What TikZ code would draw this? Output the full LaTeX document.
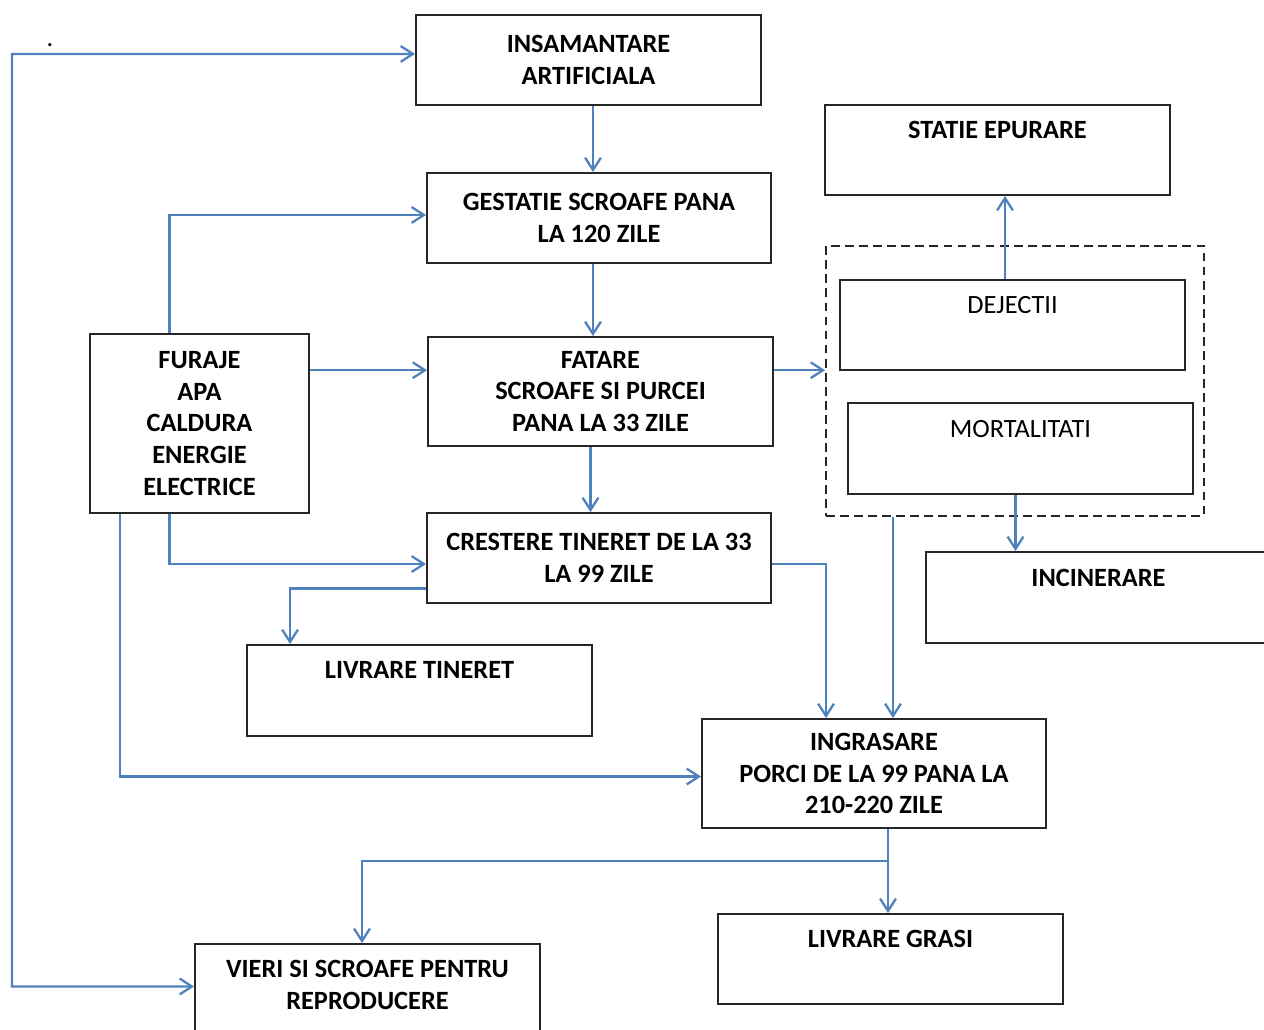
\documentclass[tikz,border=0pt]{standalone}
\usepackage{fontspec}
\setmainfont{Carlito}
\usetikzlibrary{arrows.meta}
\definecolor{flowblue}{RGB}{79,129,189}
\tikzset{
  box/.style={draw=black!85, line width=1.1pt, align=center,
    font=\fontsize{15pt}{18pt}\selectfont\bfseries},
  boxtext/.style={anchor=base, align=center,
    font=\fontsize{15pt}{18pt}\selectfont\bfseries},
  plaintext/.style={boxtext, font=\fontsize{15pt}{18pt}\selectfont},
  flow/.style={draw=flowblue, line width=1.3pt, ->},
}
\begin{document}
\begin{tikzpicture}[x=0.02cm, y=-0.02cm, >={Straight Barb[length=7pt,width=9pt]}]
\useasboundingbox (0,0) rectangle (1264,1030);

% middle column
\node[box, minimum width=6.9cm, minimum height=1.8cm] (insam) at (588.5,60) {INSAMANTARE\\ARTIFICIALA};
\node[box, minimum width=6.88cm, minimum height=1.8cm] (gest) at (599,218) {GESTATIE SCROAFE PANA\\LA 120 ZILE};
\node[box, minimum width=6.9cm, minimum height=2.18cm] (fatare) at (600.5,391.5) {FATARE\\SCROAFE SI PURCEI\\PANA LA 33 ZILE};
\node[box, minimum width=6.88cm, minimum height=1.8cm] (crestere) at (599,558) {CRESTERE TINERET DE LA 33\\LA 99 ZILE};
\node[box, minimum width=4.38cm, minimum height=3.58cm] (furaje) at (199.5,423.5) {FURAJE\\APA\\CALDURA\\ENERGIE\\ELECTRICE};
\node[box, minimum width=6.88cm, minimum height=2.18cm] (ingras) at (874,773.5) {INGRASARE\\PORCI DE LA 99 PANA LA\\210-220 ZILE};

% boxes with text at the top
\node[box, minimum width=6.9cm, minimum height=1.8cm] (statie) at (997.5,150) {};
\node[boxtext] (statie-t) at ([yshift=-0.68cm]statie.north) {STATIE EPURARE};
\node[draw=black!85, line width=1.1pt, dash pattern=on 5pt off 3pt,
  minimum width=7.56cm, minimum height=5.4cm] (grp) at (1015,381) {};
\node[box, minimum width=6.9cm, minimum height=1.8cm] (dejectii) at (1012.5,325) {};
\node[plaintext] (dejectii-t) at ([yshift=-0.68cm]dejectii.north) {DEJECTII};
\node[box, minimum width=6.9cm, minimum height=1.82cm] (mortal) at (1020.5,448.5) {};
\node[plaintext] (mortal-t) at ([yshift=-0.7cm]mortal.north) {MORTALITATI};
\node[box, minimum width=6.9cm, minimum height=1.82cm] (incin) at (1098.5,597.5) {};
\node[boxtext] (incin-t) at ([yshift=-0.7cm]incin.north) {INCINERARE};
\node[box, minimum width=6.9cm, minimum height=1.82cm] (livtin) at (419.5,690.5) {};
\node[boxtext] (livtin-t) at ([yshift=-0.68cm]livtin.north) {LIVRARE TINERET};
\node[box, minimum width=6.9cm, minimum height=1.8cm] (livgras) at (890.5,959) {};
\node[boxtext] (livgras-t) at ([yshift=-0.68cm]livgras.north) {LIVRARE GRASI};
\node[box, minimum width=6.9cm, minimum height=1.82cm] (vieri) at (367.5,989.5) {};
\node[boxtext] (vieri-t) at ([yshift=-1.33cm]vieri.north) {VIERI SI SCROAFE PENTRU\\REPRODUCERE};

\node[font=\fontsize{15pt}{18pt}\selectfont, anchor=base] (stray) at (50,47) {.};

% connectors
\coordinate (loop) at (12,54);
\draw[flow, <->] (vieri.179) -| (loop) -- (insam.178);
\draw[flow] ([xshift=0.09cm]insam.south) -- ([xshift=0.09cm]insam.south |- gest.north);
\draw[flow] ([xshift=-0.12cm]gest.south) -- ([xshift=-0.12cm]gest.south |- fatare.north);
\draw[flow] ([xshift=-0.2cm]fatare.south) -- ([xshift=-0.2cm]fatare.south |- crestere.north);
\draw[flow] ([xshift=-0.6cm]furaje.north) |- (gest.179);
\draw[flow] (furaje.east |- fatare.173) -- (fatare.173);
\draw[flow] ([xshift=-0.6cm]furaje.south) |- (crestere.182);
\draw[flow] ([xshift=-1.59cm]furaje.south) |- (ingras.181);
\draw[flow] (crestere.190) -| ([xshift=-2.59cm]livtin.north);
\draw[flow] (crestere.358) -| ([xshift=-0.96cm]ingras.north);
\draw[flow] ([xshift=0.38cm]ingras.north |- grp.south) -- ([xshift=0.38cm]ingras.north);
\draw[flow] (fatare.7) -- (fatare.7 -| grp.west);
\draw[flow] ([xshift=-0.15cm]dejectii.north) -- ([xshift=-0.15cm]dejectii.north |- statie.south);
\draw[flow] ([xshift=-0.1cm]mortal.south) -- ([xshift=-0.1cm]mortal.south |- incin.north);
\coordinate (split) at ([xshift=0.28cm,yshift=-0.64cm]ingras.south);
\draw[flow] ([xshift=0.28cm]ingras.south) -- ([xshift=0.28cm]ingras.south |- livgras.north);
\draw[flow] (split) -| ([xshift=-0.11cm]vieri.north);
\end{tikzpicture}
\end{document}
